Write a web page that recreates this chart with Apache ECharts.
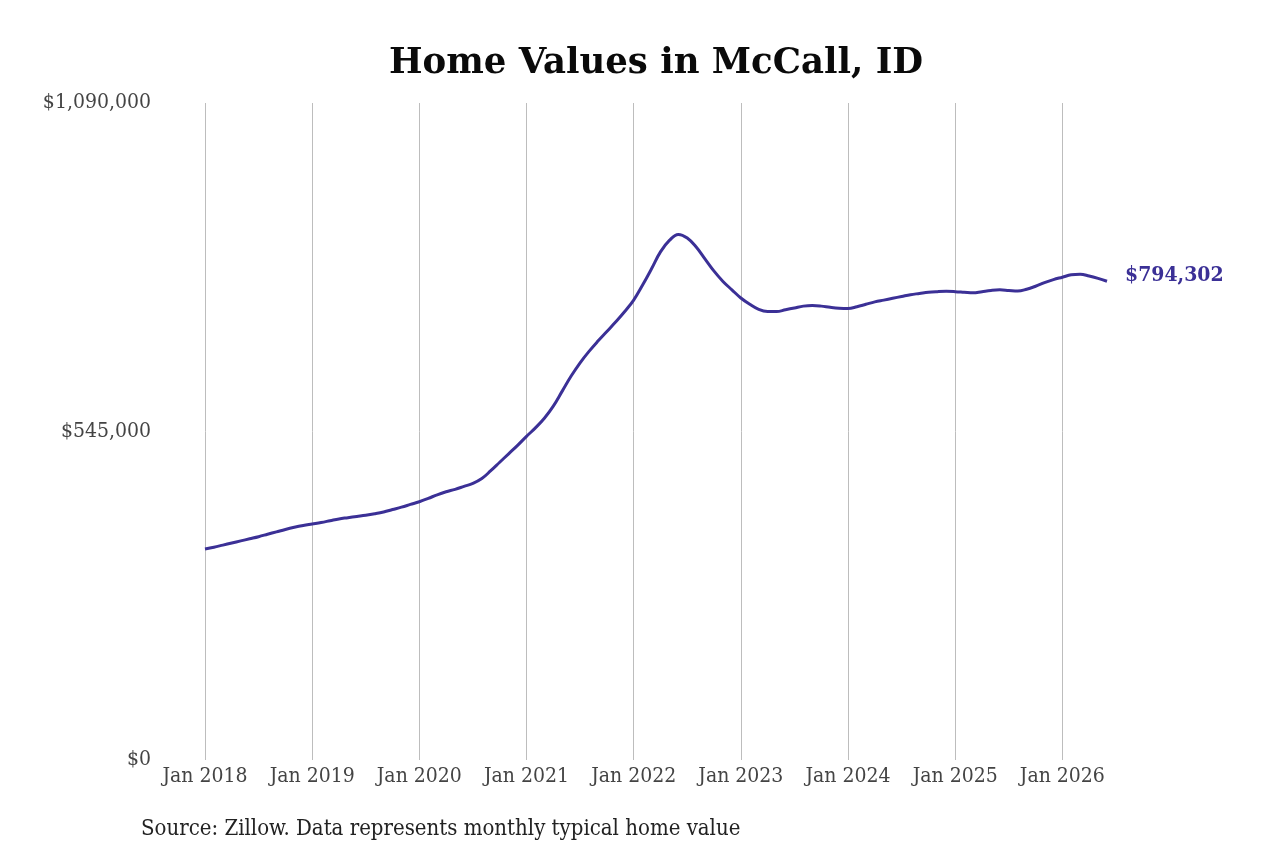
<html>
<head>
<meta charset="UTF-8">
<script src="https://cdn.jsdelivr.net/npm/echarts@6/dist/echarts.min.js"></script>
<title>Home Values in McCall, ID</title>
<style>
  html, body { margin: 0; padding: 0; background: #fff; }
  #main { width: 1280px; height: 853px; }
</style>
</head>
<body>
<div id="main"></div>
<script type="text/javascript">
	// monthly typical home value, Jan 2018 - Jun 2026
	var years = [2018, 2019, 2020, 2021, 2022, 2023, 2024, 2025, 2026];
	var monthNames = ['Jan', 'Feb', 'Mar', 'Apr', 'May', 'Jun', 'Jul', 'Aug', 'Sep', 'Oct', 'Nov', 'Dec'];
	var v2018 = [350000, 353000, 356500, 360000, 363500, 367000, 370500, 374500, 378500, 382500, 386000, 389000];
	var v2019 = [391500, 394000, 397000, 400000, 402000, 404000, 406000, 408500, 411500, 415500, 419500, 424000];
	var v2020 = [428500, 434000, 440000, 445000, 449000, 454000, 459000, 467000, 480000, 494000, 508000, 522000];
	var v2021 = [537000, 551000, 567000, 587000, 612000, 637000, 659000, 678000, 695000, 711000, 727000, 744000];
	var v2022 = [763000, 788000, 815000, 843000, 862000, 872000, 866000, 851000, 831000, 811000, 794000, 780000];
	var v2023 = [766500, 756000, 747500, 744000, 744000, 747000, 750000, 753000, 754000, 753000, 751000, 749500];
	var v2024 = [749000, 752000, 756000, 760000, 763000, 766000, 769000, 772000, 774000, 776000, 777000, 777500];
	var v2025 = [777000, 776000, 775000, 777000, 779000, 780000, 779000, 778000, 781000, 786000, 792000, 797000];
	var v2026 = [801000, 805000, 806000, 803000, 799000, 794302];
	var yTicks = [0, 545000, 1090000];
	var lastLabel = '$794,302';

	var values = [].concat(v2018, v2019, v2020, v2021, v2022, v2023, v2024, v2025, v2026);
	var months = [];
	for (var i = 0; i < values.length; i++) {
		months.push(monthNames[i % 12] + ' ' + years[Math.floor(i / 12)]);
	}

	var lineColor = '#3b3096';
	var serifC = "'DejaVu Serif Condensed', 'DejaVu Serif', serif";

	function isJan(index) {
		return index % 12 === 0;
	}
	function money(v) {
		return '$' + v.toString().replace(/\B(?=(\d{3})+(?!\d))/g, ',');
	}

	var myChart = echarts.init(document.getElementById('main'));
	var option = {
		animation : false,
		backgroundColor : '#fff',
		title : {
			text : 'Home Values in McCall, ID',
			left : 651,
			top : 41,
			textAlign : 'center',
			textStyle : {
				fontFamily : "'DejaVu Serif', serif",
				fontWeight : 'bold',
				fontSize : 35.5,
				color : '#0a0a0a'
			}
		},
		grid : {
			left : 205,
			right : 173,
			top : 103,
			bottom : 93
		},
		xAxis : {
			type : 'category',
			boundaryGap : false,
			data : months,
			axisLine : { show : false },
			axisTick : { show : false },
			axisLabel : {
				interval : isJan,
				margin : 6,
				fontFamily : serifC,
				fontSize : 21,
				color : '#444'
			},
			splitLine : {
				show : true,
				interval : isJan,
				lineStyle : { color : '#bdbdbd', width : 1 }
			}
		},
		yAxis : {
			type : 'value',
			min : yTicks[0],
			max : yTicks[yTicks.length - 1],
			interval : yTicks[1] - yTicks[0],
			splitLine : { show : false },
			axisLine : { show : false },
			axisTick : { show : false },
			axisLabel : {
				margin : 54,
				padding : [4, 0, 0, 0],
				fontFamily : serifC,
				fontSize : 21,
				color : '#444',
				formatter : money
			}
		},
		graphic : [ {
			type : 'text',
			left : 141,
			top : 818,
			style : {
				text : 'Source: Zillow. Data represents monthly typical home value',
				font : "22px 'DejaVu Serif Condensed', 'DejaVu Serif', serif",
				fill : '#222'
			}
		} ],
		series : [ {
			name : 'Home value',
			type : 'line',
			data : values,
			smooth : 0.4,
			showSymbol : false,
			lineStyle : { color : lineColor, width : 3 },
			itemStyle : { color : lineColor },
			endLabel : {
				show : true,
				formatter : lastLabel,
				distance : 18,
				offset : [0, -6],
				fontFamily : serifC,
				fontWeight : 'bold',
				fontSize : 21,
				color : lineColor
			}
		} ]
	};
	myChart.setOption(option);
</script>
</body>
</html>
